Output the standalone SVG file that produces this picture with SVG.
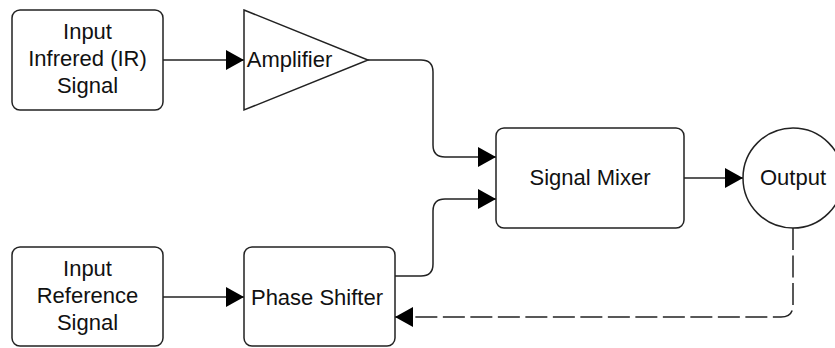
<svg xmlns="http://www.w3.org/2000/svg" width="835" height="348" viewBox="0 0 835 348">
  <style>
    .node { fill: #ffffff; stroke: #222222; stroke-width: 1.5; }
    .label { font-family: "Liberation Sans", Arial, sans-serif; font-size: 22px; fill: #111111; text-anchor: middle; }
    .edge { fill: none; stroke: #222222; stroke-width: 1.5; }
    .dashed { stroke-dasharray: 22 5.5; }
  </style>
  <defs>
    <marker id="arrow" markerUnits="userSpaceOnUse" markerWidth="18" markerHeight="20" refX="18" refY="10" orient="auto">
      <path d="M0,0 L18,10 L0,20 Z" fill="#000000"/>
    </marker>
  </defs>

  <rect width="835" height="348" fill="#ffffff"/>

  <!-- connectors -->
  <g id="connectors">
    <path class="edge" d="M163,60 L244,60" marker-end="url(#arrow)"/>
    <path class="edge" d="M368,60 L421,60 Q433,60 433,72 L433,145 Q433,157 445,157 L496,157" marker-end="url(#arrow)"/>
    <path class="edge" d="M163,297 L244,297" marker-end="url(#arrow)"/>
    <path class="edge" d="M395,276 L421,276 Q433,276 433,264 L433,211 Q433,199 445,199 L496,199" marker-end="url(#arrow)"/>
    <path class="edge" d="M684,178 L743,178" marker-end="url(#arrow)"/>
    <path class="edge dashed" d="M793,228 L793,305 Q793,317 781,317 L395,317" marker-end="url(#arrow)"/>
  </g>

  <g id="input-ir">
    <rect class="node" x="12" y="10" width="151" height="100" rx="8"/>
    <text class="label" x="87.5" y="39">Input</text>
    <text class="label" x="87.5" y="66">Infrered (IR)</text>
    <text class="label" x="87.5" y="93">Signal</text>
  </g>

  <g id="amplifier">
    <path class="node" d="M244,10 L368,60 L244,110 Z"/>
    <text class="label" x="289.5" y="67">Amplifier</text>
  </g>

  <g id="input-ref">
    <rect class="node" x="12" y="247" width="151" height="99" rx="8"/>
    <text class="label" x="87.5" y="276">Input</text>
    <text class="label" x="87.5" y="303">Reference</text>
    <text class="label" x="87.5" y="330">Signal</text>
  </g>

  <g id="phase-shifter">
    <rect class="node" x="244" y="247" width="151" height="99" rx="8"/>
    <text class="label" x="317" y="305">Phase Shifter</text>
  </g>

  <g id="signal-mixer">
    <rect class="node" x="496" y="128" width="188" height="100" rx="8"/>
    <text class="label" x="590" y="185">Signal Mixer</text>
  </g>

  <g id="output">
    <circle class="node" cx="793" cy="178" r="50"/>
    <text class="label" x="793" y="185">Output</text>
  </g>
</svg>
